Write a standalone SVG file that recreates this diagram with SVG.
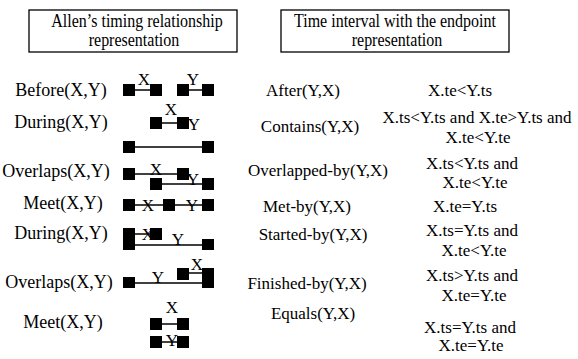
<svg xmlns="http://www.w3.org/2000/svg" width="578" height="359" viewBox="0 0 578 359">
<style>
text{font-family:"Liberation Serif","Times New Roman",serif;fill:#000}
.h{font-size:16px;text-anchor:middle}
.l{font-size:18px;text-anchor:middle}
.r{font-size:17px;text-anchor:middle}
.b{font-size:17px;text-anchor:middle}
.box{fill:#fff;stroke:#000;stroke-width:1.3}
.sq{fill:#000}
.ln{stroke:#000;stroke-width:1.5;fill:none}
</style>
<rect width="578" height="359" fill="#fff"/>
<g id="header-allen">
<rect class="box" x="29" y="10" width="208" height="42"/>
<text class="h" transform="translate(137,27) scale(1,1.15)">Allen’s timing relationship</text>
<text class="h" transform="translate(134,46) scale(1,1.15)">representation</text>
</g>
<g id="header-endpoint">
<rect class="box" x="281" y="10" width="228" height="42"/>
<text class="h" transform="translate(395,27) scale(1,1.15)">Time interval with the endpoint</text>
<text class="h" transform="translate(397,46) scale(1,1.15)">representation</text>
</g>
<g id="labels-left">
<text class="l" x="61" y="96">Before(X,Y)</text>
<text class="l" x="61" y="128">During(X,Y)</text>
<text class="l" x="56" y="177">Overlaps(X,Y)</text>
<text class="l" x="63" y="209">Meet(X,Y)</text>
<text class="l" x="61" y="239">During(X,Y)</text>
<text class="l" x="59" y="288">Overlaps(X,Y)</text>
<text class="l" x="63" y="328">Meet(X,Y)</text>
</g>
<g id="connectors">
<line class="ln" x1="135" y1="90" x2="150" y2="90"/>
<line class="ln" x1="189" y1="90" x2="202" y2="90"/>
<line class="ln" x1="162" y1="123" x2="177" y2="123"/>
<line class="ln" x1="135" y1="147" x2="202" y2="147"/>
<line class="ln" x1="135" y1="174" x2="177" y2="174"/>
<line class="ln" x1="162" y1="184" x2="202" y2="184"/>
<line class="ln" x1="135" y1="205" x2="202" y2="205"/>
<line class="ln" x1="135" y1="234" x2="150" y2="234"/>
<line class="ln" x1="135" y1="245" x2="202" y2="245"/>
<line class="ln" x1="188" y1="273" x2="202" y2="273"/>
<line class="ln" x1="135" y1="283" x2="202" y2="283"/>
<line class="ln" x1="162" y1="324" x2="177" y2="324"/>
<line class="ln" x1="162" y1="342" x2="177" y2="342"/>
</g>
<g id="bars">
<rect class="sq" x="123" y="84" width="12" height="12"/>
<rect class="sq" x="150" y="84" width="12" height="12"/>
<rect class="sq" x="177" y="84" width="12" height="12"/>
<rect class="sq" x="202" y="84" width="12" height="12"/>
<text class="b" x="144" y="85">X</text>
<text class="b" x="193" y="85">Y</text>
<rect class="sq" x="150" y="117" width="12" height="12"/>
<rect class="sq" x="177" y="117" width="12" height="12"/>
<text class="b" x="171" y="115">X</text>
<text class="b" x="194" y="130">Y</text>
<rect class="sq" x="123" y="141" width="12" height="12"/>
<rect class="sq" x="202" y="141" width="12" height="12"/>
<rect class="sq" x="123" y="168" width="12" height="12"/>
<rect class="sq" x="177" y="168" width="12" height="12"/>
<rect class="sq" x="150" y="178" width="12" height="12"/>
<rect class="sq" x="202" y="178" width="12" height="12"/>
<text class="b" x="156" y="175">X</text>
<text class="b" x="193" y="185">Y</text>
<rect class="sq" x="123" y="199" width="12" height="12"/>
<rect class="sq" x="163" y="199" width="12" height="12"/>
<rect class="sq" x="202" y="199" width="12" height="12"/>
<text class="b" x="148" y="211">X</text>
<text class="b" x="192" y="211">Y</text>
<rect class="sq" x="123" y="228" width="12" height="22"/>
<rect class="sq" x="150" y="228" width="12" height="12"/>
<rect class="sq" x="202" y="239" width="12" height="11"/>
<text class="b" x="148" y="240">X</text>
<text class="b" x="178" y="245">Y</text>
<rect class="sq" x="177" y="268" width="12" height="12"/>
<rect class="sq" x="202" y="268" width="12" height="20"/>
<rect class="sq" x="123" y="277" width="12" height="11"/>
<text class="b" x="197" y="270">X</text>
<text class="b" x="158" y="283">Y</text>
<text class="b" x="172" y="313">X</text>
<rect class="sq" x="150" y="318" width="12" height="12"/>
<rect class="sq" x="177" y="318" width="12" height="12"/>
<rect class="sq" x="150" y="336" width="12" height="12"/>
<rect class="sq" x="177" y="336" width="12" height="12"/>
<text class="b" x="172" y="346">Y</text>
</g>
<g id="labels-right">
<text class="r" x="303" y="96">After(Y,X)</text>
<text class="r" x="310" y="132">Contains(Y,X)</text>
<text class="r" x="318" y="176">Overlapped-by(Y,X)</text>
<text class="r" x="307" y="212">Met-by(Y,X)</text>
<text class="r" x="313" y="240">Started-by(Y,X)</text>
<text class="r" x="307" y="289">Finished-by(Y,X)</text>
<text class="r" x="313" y="319">Equals(Y,X)</text>
</g>
<g id="endpoints">
<text class="r" x="460" y="96">X.te&lt;Y.ts</text>
<text class="r" x="477" y="123">X.ts&lt;Y.ts and X.te&gt;Y.ts and</text>
<text class="r" x="478" y="143">X.te&lt;Y.te</text>
<text class="r" x="472" y="169">X.ts&lt;Y.ts and</text>
<text class="r" x="475" y="188">X.te&lt;Y.te</text>
<text class="r" x="465" y="212">X.te=Y.ts</text>
<text class="r" x="472" y="236">X.ts=Y.ts and</text>
<text class="r" x="474" y="256">X.te&lt;Y.te</text>
<text class="r" x="472" y="281">X.ts&gt;Y.ts and</text>
<text class="r" x="474" y="301">X.te=Y.te</text>
<text class="r" x="470" y="333">X.ts=Y.ts and</text>
<text class="r" x="471" y="351">X.te=Y.te</text>
</g>
</svg>
